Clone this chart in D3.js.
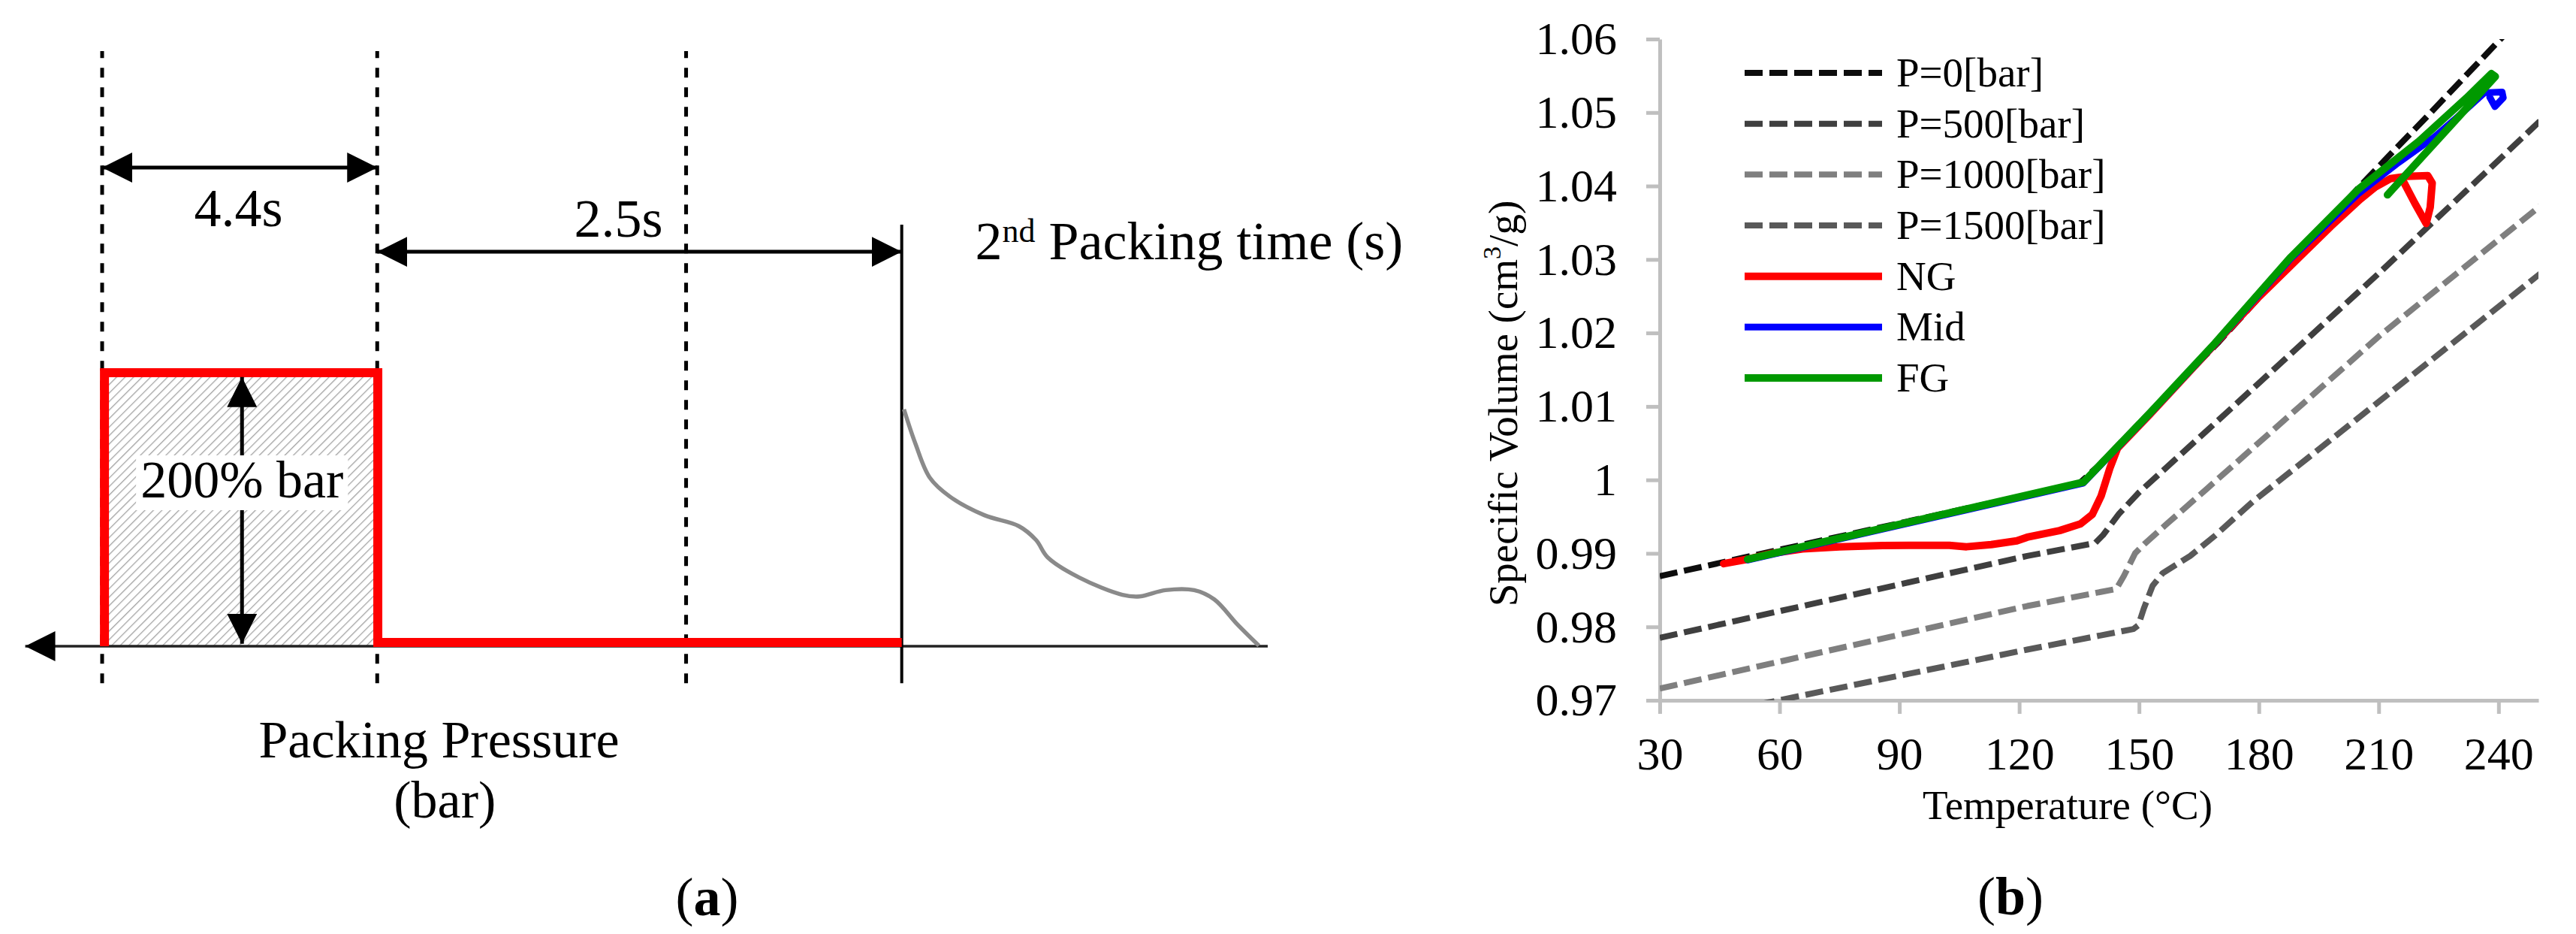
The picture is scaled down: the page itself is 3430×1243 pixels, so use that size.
<!DOCTYPE html>
<html>
<head>
<meta charset="utf-8">
<script src="https://cdn.jsdelivr.net/npm/d3@7"></script>
<style>
body { margin: 0; background: #fff; }
svg text { font-family: "Liberation Serif", "Times New Roman", serif; }
</style>
</head>
<body>
<script>
// ---------- panel (a): schematic, units on a 0-100 layout axis ----------
var guideX = [0, 23.6, 50.1];          // dashed guides
var gateX = 68.6;                       // start of 2nd packing
var redX = [0.2, 0.2, 23.65, 23.65, 68.6];
var redY = [0, 100, 100, 1.4, 1.4];
var decayX = [68.79, 69.77, 71.01, 72.73, 75.69, 78.65, 80.13, 81.12, 83.83, 87.53, 89.01, 91.22, 93.69, 95.42, 97.39, 99.24];
var decayY = [86.6, 74.1, 61.6, 54.7, 47.9, 43.9, 38.8, 32.5, 25.1, 18.8, 18.2, 20.5, 20.5, 17.1, 8.0, 0.2];

// ---------- panel (b): PVT data ----------
var xTicks = [30, 60, 90, 120, 150, 180, 210, 240];
var yTicks = [0.97, 0.98, 0.99, 1.00, 1.01, 1.02, 1.03, 1.04, 1.05, 1.06];

var tP0 = [30, 135, 140, 152, 170, 188, 205, 212, 222, 240, 246];
var vP0 = [0.9869, 0.9995, 1.0020, 1.0088, 1.0188, 1.0296, 1.0398, 1.0438, 1.0494, 1.0597, 1.0632];

var tP500 = [30, 122, 139, 141, 145, 150, 169, 210, 250.5];
var vP500 = [0.9785, 0.98965, 0.9914, 0.9925, 0.9954, 0.9983, 1.0077, 1.0281, 1.0489];

var tP1000 = [30, 122, 144.3, 146.2, 149, 151.5, 157.1, 167.1, 178.4, 210.4, 250.5];
var vP1000 = [0.9716, 0.98283, 0.98515, 0.98692, 0.9900, 0.99136, 0.99408, 0.99885, 1.0043, 1.0197, 1.0373];

var tP1500 = [30, 122, 148.6, 149.8, 151.2, 153.4, 155.9, 162.8, 169, 178.4, 250.5];
var vP1500 = [0.9667, 0.9769, 0.9797, 0.9802, 0.9825, 0.9856, 0.9873, 0.98965, 0.9924, 0.9970, 1.0281];

var tNG = [46, 52, 58, 65.7, 75, 85.8, 95, 102.5, 106.8, 113, 119.4, 122, 130.1, 135.3, 138.3, 140.5, 142.7, 144.6, 152.7, 169, 180, 190.3, 198, 205.4, 209, 212.9, 216.7, 222.3, 223.4, 222.9, 221.9, 219, 216.5, 215.8];
var vNG = [0.9886, 0.9892, 0.9900, 0.9906, 0.9909, 0.99108, 0.9911, 0.9911, 0.9909, 0.9912, 0.9917, 0.9922, 0.9931, 0.9940, 0.9953, 0.9978, 1.0016, 1.0043, 1.0089, 1.0185, 1.0249, 1.0304, 1.0345, 1.0382, 1.0398, 1.0410, 1.0413, 1.0414, 1.0404, 1.0371, 1.0349, 1.0377, 1.0403, 1.0410];

var tMid = [52, 136, 152.7, 169, 187.8, 205, 215, 224, 231, 236.5, 240.9, 241.2, 239.1, 237.8];
var vMid = [0.9891, 0.99955, 1.0090, 1.0185, 1.0300, 1.0390, 1.0432, 1.0467, 1.0500, 1.0527, 1.0528, 1.0520, 1.0508, 1.0521];

var tFG = [52, 136.1, 152.7, 169, 187.8, 205, 220.1, 232, 238.2, 239.2, 212.2];
var vFG = [0.9892, 0.9997, 1.0091, 1.0186, 1.0302, 1.0396, 1.0461, 1.0520, 1.0553, 1.0549, 1.0388];

var seriesNames = ["P=0[bar]", "P=500[bar]", "P=1000[bar]", "P=1500[bar]", "NG", "Mid", "FG"];

function zip(a, b) { return a.map(function (d, i) { return [d, b[i]]; }); }

var series = [
  {name: seriesNames[0], pts: zip(tP0, vP0), color: "#0d0d0d", dash: "24,9", w: 8},
  {name: seriesNames[1], pts: zip(tP500, vP500), color: "#3f3f3f", dash: "24,9", w: 8},
  {name: seriesNames[2], pts: zip(tP1000, vP1000), color: "#7f7f7f", dash: "24,9", w: 8},
  {name: seriesNames[3], pts: zip(tP1500, vP1500), color: "#595959", dash: "24,9", w: 8},
  {name: seriesNames[4], pts: zip(tNG, vNG), color: "#ff0000", dash: null, w: 10},
  {name: seriesNames[5], pts: zip(tMid, vMid), color: "#0000ff", dash: null, w: 9},
  {name: seriesNames[6], pts: zip(tFG, vFG), color: "#009900", dash: null, w: 10}
];

var serif = '"Liberation Serif", "Times New Roman", serif';

var svg = d3.select("body").append("svg")
    .attr("width", 3430)
    .attr("height", 1243);

var defs = svg.append("defs");
defs.append("marker")
    .attr("id", "head")
    .attr("viewBox", "0 0 40 40")
    .attr("refX", 40).attr("refY", 20)
    .attr("markerWidth", 40).attr("markerHeight", 40)
    .attr("markerUnits", "userSpaceOnUse")
    .attr("orient", "auto-start-reverse")
  .append("path")
    .attr("d", "M0,0L40,20L0,40Z")
    .attr("fill", "#000");

var hatch = defs.append("pattern")
    .attr("id", "hatch")
    .attr("patternUnits", "userSpaceOnUse")
    .attr("width", 8).attr("height", 8)
    .attr("patternTransform", "rotate(45)");
hatch.append("line")
    .attr("x1", 0).attr("y1", 0).attr("x2", 0).attr("y2", 8)
    .attr("stroke", "#a3a3a3").attr("stroke-width", 2.6);

// ================= panel (a) =================
var xa = d3.scaleLinear().domain([0, 100]).range([136, 1688]);
var ya = d3.scaleLinear().domain([0, 100]).range([860, 496]);
var ga = svg.append("g");

// hatched packing block
ga.append("rect")
    .attr("x", xa(0)).attr("y", ya(100))
    .attr("width", xa(23.6) - xa(0)).attr("height", ya(0) - ya(100))
    .attr("fill", "url(#hatch)");

// dashed guides
ga.selectAll(".guide")
  .data(guideX)
  .enter().append("line")
    .attr("class", "guide")
    .attr("x1", function (d) { return xa(d); })
    .attr("x2", function (d) { return xa(d); })
    .attr("y1", ya(-13.5)).attr("y2", ya(217.6))
    .attr("stroke", "#000").attr("stroke-width", 5)
    .attr("stroke-dasharray", "13,13");

// time baseline with arrow to the left
ga.append("line")
    .attr("x1", xa(100)).attr("x2", xa(-6.6))
    .attr("y1", ya(0)).attr("y2", ya(0))
    .attr("stroke", "#222").attr("stroke-width", 3.5)
    .attr("marker-end", "url(#head)");

// gate line
ga.append("line")
    .attr("x1", xa(gateX)).attr("x2", xa(gateX))
    .attr("y1", ya(-13.5)).attr("y2", ya(154.1))
    .attr("stroke", "#000").attr("stroke-width", 4);

// packing pressure profile
ga.append("path")
    .datum(zip(redX, redY))
    .attr("d", d3.line().x(function (d) { return xa(d[0]); }).y(function (d) { return ya(d[1]); }))
    .attr("fill", "none").attr("stroke", "#ff0000").attr("stroke-width", 12)
    .attr("stroke-linejoin", "miter");

// 2nd packing decay curve
ga.append("path")
    .datum(zip(decayX, decayY))
    .attr("d", d3.line().curve(d3.curveCatmullRom.alpha(0.5))
        .x(function (d) { return xa(d[0]); }).y(function (d) { return ya(d[1]); }))
    .attr("fill", "none").attr("stroke", "#8a8a8a").attr("stroke-width", 5.5);

// dimension arrows
function dimArrow(x1, y1, x2, y2) {
  ga.append("line")
      .attr("x1", xa(x1)).attr("y1", ya(y1))
      .attr("x2", xa(x2)).attr("y2", ya(y2))
      .attr("stroke", "#000").attr("stroke-width", 5)
      .attr("marker-start", "url(#head)")
      .attr("marker-end", "url(#head)");
}
dimArrow(0, 175, 23.6, 175);
dimArrow(23.6, 144.2, gateX, 144.2);
dimArrow(12.0, 98.4, 12.0, 0.9);

// labels
var lbl = ga.append("text")
    .attr("x", xa(12.0)).attr("y", ya(54.4))
    .attr("text-anchor", "middle").attr("font-size", 70)
    .attr("font-family", serif)
    .text("200% bar");
var bb = lbl.node().getBBox();
ga.insert("rect", "text")
    .attr("x", bb.x - 6).attr("y", bb.y + 6)
    .attr("width", bb.width + 12).attr("height", bb.height - 4)
    .attr("fill", "#fff");

ga.append("text")
    .attr("x", xa(11.7)).attr("y", ya(153.6))
    .attr("text-anchor", "middle").attr("font-size", 72).attr("font-family", serif)
    .text("4.4s");
ga.append("text")
    .attr("x", xa(44.3)).attr("y", ya(149.7))
    .attr("text-anchor", "middle").attr("font-size", 72).attr("font-family", serif)
    .text("2.5s");

var t2 = ga.append("text")
    .attr("x", xa(74.9)).attr("y", ya(141.5))
    .attr("font-size", 72).attr("font-family", serif);
t2.append("tspan").text("2");
t2.append("tspan").attr("font-size", 44).attr("dy", -23).text("nd");
t2.append("tspan").attr("dy", 23).text(" Packing time (s)");

ga.append("text")
    .attr("x", xa(28.9)).attr("y", ya(-40.7))
    .attr("text-anchor", "middle").attr("font-size", 70).attr("font-family", serif)
    .text("Packing Pressure");
ga.append("text")
    .attr("x", xa(29.4)).attr("y", ya(-62.6))
    .attr("text-anchor", "middle").attr("font-size", 70).attr("font-family", serif)
    .text("(bar)");

var capA = ga.append("text")
    .attr("x", xa(51.9)).attr("y", ya(-98.4))
    .attr("text-anchor", "middle").attr("font-size", 72).attr("font-family", serif);
capA.append("tspan").text("(");
capA.append("tspan").attr("font-weight", "bold").text("a");
capA.append("tspan").text(")");

// ================= panel (b) =================
var x = d3.scaleLinear().domain([30, 250]).range([2210, 3380]);
var y = d3.scaleLinear().domain([0.97, 1.06]).range([932, 52]);
var gb = svg.append("g");

defs.append("clipPath").attr("id", "plotClip")
  .append("rect")
    .attr("x", x(30)).attr("y", y(1.06))
    .attr("width", x(250) - x(30)).attr("height", y(0.97) - y(1.06));

var yAxis = gb.append("g")
    .attr("transform", "translate(" + x(30) + ",0)")
    .call(d3.axisLeft(y).tickValues(yTicks).tickSize(18).tickSizeOuter(0).tickPadding(39)
        .tickFormat(function (d) { return d3.format(".2f")(d).replace(/\.?0+$/, ""); }));
var xAxis = gb.append("g")
    .attr("transform", "translate(0," + y(0.97) + ")")
    .call(d3.axisBottom(x).tickValues(xTicks).tickSize(18).tickSizeOuter(0).tickPadding(30));

[yAxis, xAxis].forEach(function (a) {
  a.attr("font-family", serif).attr("font-size", 62);
  a.select(".domain").attr("stroke", "#bfbfbf").attr("stroke-width", 5);
  a.selectAll(".tick line").attr("stroke", "#bfbfbf").attr("stroke-width", 5);
  a.selectAll(".tick text").attr("fill", "#000");
});

var line = d3.line()
    .x(function (d) { return x(d[0]); })
    .y(function (d) { return y(d[1]); });

gb.append("g")
    .attr("clip-path", "url(#plotClip)")
  .selectAll("path")
  .data(series)
  .enter().append("path")
    .attr("d", function (d) { return line(d.pts); })
    .attr("fill", "none")
    .attr("stroke", function (d) { return d.color; })
    .attr("stroke-width", function (d) { return d.w; })
    .attr("stroke-dasharray", function (d) { return d.dash; })
    .attr("stroke-linejoin", "round")
    .attr("stroke-linecap", function (d) { return d.dash ? "butt" : "round"; });

// legend
var ly = d3.scaleLinear().domain([0, seriesNames.length - 1]).range([97, 503]);
var leg = gb.selectAll(".leg")
  .data(series)
  .enter().append("g")
    .attr("class", "leg")
    .attr("transform", function (d, i) { return "translate(0," + ly(i) + ")"; });
leg.append("line")
    .attr("x1", 2323).attr("x2", 2506)
    .attr("stroke", function (d) { return d.color; })
    .attr("stroke-width", function (d) { return d.w; })
    .attr("stroke-dasharray", function (d) { return d.dash; });
leg.append("text")
    .attr("x", 2525).attr("y", 18)
    .attr("font-size", 55).attr("font-family", serif)
    .text(function (d) { return d.name; });

// axis titles
gb.append("text")
    .attr("x", 2753).attr("y", 1090)
    .attr("text-anchor", "middle").attr("font-size", 55).attr("font-family", serif)
    .text("Temperature (\u00B0C)");

var yt = gb.append("text")
    .attr("transform", "translate(2020,537) rotate(-90)")
    .attr("text-anchor", "middle").attr("font-size", 55).attr("font-family", serif);
yt.append("tspan").text("Specific Volume (cm");
yt.append("tspan").attr("font-size", 34).attr("dy", -22).text("3");
yt.append("tspan").attr("dy", 22).text("/g)");

var capB = gb.append("text")
    .attr("x", 2677).attr("y", 1217)
    .attr("text-anchor", "middle").attr("font-size", 72).attr("font-family", serif);
capB.append("tspan").text("(");
capB.append("tspan").attr("font-weight", "bold").text("b");
capB.append("tspan").text(")");
</script>
</body>
</html>
